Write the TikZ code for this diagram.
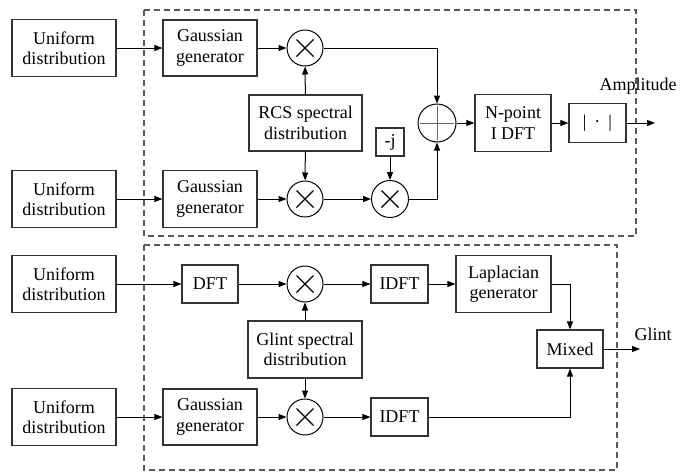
\documentclass[tikz,border=0pt]{standalone}
\usepackage{fontspec}
\setmainfont{Liberation Serif}
\usetikzlibrary{arrows.meta,calc}
\begin{document}
\begin{tikzpicture}[x=1pt,y=-1pt,
  every node/.style={font=\fontsize{18}{20.5}\selectfont, text=black},
  blk/.style={draw=black!80, line width=1.1pt, inner sep=0pt, align=center},
  mul/.style={draw=black, line width=1pt, circle, inner sep=0pt, minimum size=36pt},
  con/.style={line width=1pt, -{Triangle[length=8pt,width=6pt]}},
  ln/.style={line width=1pt},
  frame/.style={draw=black!65, line width=1.1pt, dash pattern=on 6pt off 4pt}
]
\useasboundingbox (0,0) rectangle (680,472);
% frames
\draw[frame] (144,10) rectangle (636,236);
\draw[frame] (144,245) rectangle (617,470);

% ---------- top ----------
\node[blk, minimum width=104pt, minimum height=57pt] (U1) at (64,48) {Uniform\\distribution};
\node[blk, minimum width=104pt, minimum height=57pt] (U2) at (64,199) {Uniform\\distribution};
\node[blk, minimum width=94pt, minimum height=56pt] (G1) at (210,48) {Gaussian\\generator};
\node[blk, minimum width=94pt, minimum height=57pt] (G2) at (210,199) {Gaussian\\generator};
\node[mul] (M1) at (305,48) {};
\node[mul] (M2) at (305,199) {};
\node[mul, minimum size=37pt] (M3) at (390,199) {};
\node[blk, minimum width=113pt, minimum height=56pt] (RCS) at (305.5,123) {RCS spectral\\distribution};
\node[blk, minimum width=28pt, minimum height=28pt] (J) at (390,142) {-j};
\node[mul, minimum size=38pt] (S) at (437,123) {};
\node[blk, minimum width=76pt, minimum height=57pt] (NP) at (513,123) {N-point\\I DFT};
\node[blk, minimum width=57pt, minimum height=39pt] (AB) at (597.5,123) {|\hspace{8pt}·\hspace{8pt}|};
\coordinate (AO) at (655,123);
\node (AL) at (638,86) {Amplitude};

\foreach \m in {M1,M2,M3}{
  \draw[line width=1.3pt] ($(\m)+(-8.5,-8.5)$) -- ($(\m)+(8.5,8.5)$);
  \draw[line width=1.3pt] ($(\m)+(-8.5,8.5)$) -- ($(\m)+(8.5,-8.5)$);
}
\draw[line width=1pt, black!60] ($(S)+(-17,0)$) -- ($(S)+(17,0)$);
\draw[line width=1pt, black!60] ($(S)+(0,-17)$) -- ($(S)+(0,17)$);

\draw[con] (U1) -- (G1);
\draw[con] (U2) -- (G2);
\draw[con] (G1) -- (M1);
\draw[con] (G2) -- (M2);
\draw[con] (RCS) -- (M1);
\draw[con] (RCS) -- (M2);
\draw[con] (M2) -- (M3);
\draw[con] (J) -- (M3);
\draw[con] (M1) -| (S);
\draw[con] (M3) -| (S);
\draw[con] (S) -- (NP);
\draw[con] (NP) -- (AB);
\draw[con] (AB) -- (AO);

% ---------- bottom ----------
\node[blk, minimum width=104pt, minimum height=57pt] (U3) at (64,284) {Uniform\\distribution};
\node[blk, minimum width=104pt, minimum height=57pt] (U4) at (64,417) {Uniform\\distribution};
\node[blk, minimum width=56pt, minimum height=38pt] (DFT) at (210,284) {DFT};
\node[blk, minimum width=94pt, minimum height=56pt] (G3) at (210,417) {Gaussian\\generator};
\node[mul] (M4) at (305,284) {};
\node[mul] (M5) at (305,417) {};
\node[blk, minimum width=114pt, minimum height=57pt] (GS) at (305,349.5) {Glint spectral\\distribution};
\node[blk, minimum width=57pt, minimum height=38pt] (ID1) at (399.5,284) {IDFT};
\node[blk, minimum width=57pt, minimum height=38pt] (ID2) at (399.5,417) {IDFT};
\node[blk, minimum width=95pt, minimum height=57pt] (LAP) at (503.5,284) {Laplacian\\generator};
\node[blk, minimum width=66pt, minimum height=38pt] (MIX) at (570,349) {Mixed};
\coordinate (GO) at (640,349);
\node (GL) at (653,334) {Glint};

\foreach \m in {M4,M5}{
  \draw[line width=1.3pt] ($(\m)+(-8.5,-8.5)$) -- ($(\m)+(8.5,8.5)$);
  \draw[line width=1.3pt] ($(\m)+(-8.5,8.5)$) -- ($(\m)+(8.5,-8.5)$);
}

\draw[con] (U3) -- (DFT);
\draw[con] (DFT) -- (M4);
\draw[con] (M4) -- (ID1);
\draw[con] (ID1) -- (LAP);
\draw[con] (GS) -- (M4);
\draw[con] (GS) -- (M5);
\draw[con] (U4) -- (G3);
\draw[con] (G3) -- (M5);
\draw[con] (M5) -- (ID2);
\draw[con] (LAP.east) -| (MIX.north);
\draw[con] (ID2.east) -| (MIX.south);
\draw[con] (MIX) -- (GO);
\end{tikzpicture}
\end{document}
